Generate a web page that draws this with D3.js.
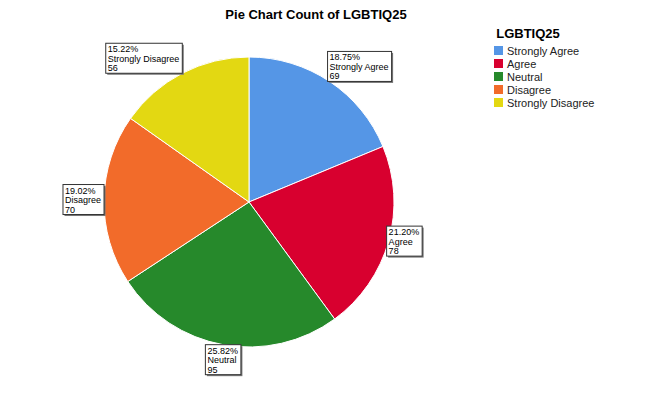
<!DOCTYPE html>
<html><head><meta charset="utf-8">
<script src="https://cdn.jsdelivr.net/npm/d3@7"></script>
<style>body{margin:0;background:#fff;font-family:Arial,"Liberation Sans",sans-serif}</style>
</head><body><div id="chart"></div>
<script>
const categories = ["Strongly Agree", "Agree", "Neutral", "Disagree", "Strongly Disagree"];
const counts = [69, 78, 95, 70, 56];
const colors = ["#5596e6", "#d8002f", "#26892b", "#f26b2a", "#e3d812"];

const width = 657, height = 406;
const cx = 249, cy = 202, r = 145;
const total = d3.sum(counts);

const svg = d3.select("#chart").append("svg").attr("width", width).attr("height", height);

svg.append("text").attr("x", 316).attr("y", 19).attr("text-anchor", "middle")
  .attr("font-size", 13).attr("font-weight", "bold").text("Pie Chart Count of LGBTIQ25");

const pie = d3.pie().sort(null).value(d => d)(counts);
const arc = d3.arc().innerRadius(0).outerRadius(r);
const g = svg.append("g").attr("transform", `translate(${cx},${cy})`);

g.selectAll("path").data(pie).enter().append("path")
  .attr("d", arc).attr("fill", (d, i) => colors[i]).attr("stroke", "#fff").attr("stroke-width", 1);

// labels
pie.forEach((d, i) => {
  const a = (d.startAngle + d.endAngle) / 2;
  const px = r * Math.sin(a), py = -r * Math.cos(a);
  const lines = [(d.value / total * 100).toFixed(2) + "%", categories[i], d.value];
  const lg = g.append("g");
  const texts = lg.selectAll("text").data(lines).enter().append("text")
    .attr("x", 2).attr("y", (t, j) => 9 + j * 9.5).attr("font-size", 9).text(t => t);
  let w = 0;
  texts.each(function() { w = Math.max(w, this.getComputedTextLength()); });
  const bw = w + 5, bh = 30;
  lg.insert("rect", "text").attr("x", 1.5).attr("y", 1.5).attr("width", bw).attr("height", bh).attr("fill", "#777");
  lg.insert("rect", "text").attr("x", 0).attr("y", 0).attr("width", bw).attr("height", bh)
    .attr("fill", "#fff").attr("stroke", "#333").attr("stroke-width", 1);
  const s = Math.sin(a), c = Math.cos(a);
  let x = Math.abs(s) < 0.3 ? px - bw / 2 : (s > 0 ? px - 2 : px - bw);
  let y = Math.abs(c) < 0.3 ? py - bh / 2 : (c > 0 ? py - bh : py);
  lg.attr("transform", `translate(${x},${y})`);
});

// legend
const leg = svg.append("g").attr("transform", "translate(494,0)");
leg.append("text").attr("x", 34).attr("y", 38).attr("text-anchor", "middle")
  .attr("font-size", 13).attr("font-weight", "bold").text("LGBTIQ25");
categories.forEach((c, i) => {
  leg.append("rect").attr("x", 0).attr("y", 46 + i * 13).attr("width", 9).attr("height", 9).attr("fill", colors[i]);
  leg.append("text").attr("x", 13).attr("y", 55 + i * 13).attr("font-size", 11).attr("fill", "#222").text(c);
});
</script></body></html>
